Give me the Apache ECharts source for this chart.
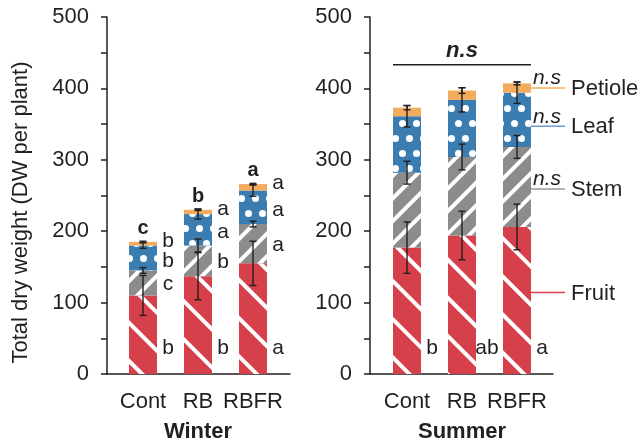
<!DOCTYPE html>
<html>
<head>
<meta charset="utf-8">
<script src="https://cdn.jsdelivr.net/npm/echarts@6/dist/echarts.min.js"></script>
<style>
  html, body { margin: 0; padding: 0; background: #ffffff; }
  #chart { width: 641px; height: 445px; }
</style>
</head>
<body>
<div id="chart"></div>
<script>
// ---- data -------------------------------------------------------------
const categories = ['Cont', 'RB', 'RBFR'];
const seasonNames = ['Winter', 'Summer'];
const organNames = ['Fruit', 'Stem', 'Leaf', 'Petiole'];
const yTicks = [0, 100, 200, 300, 400, 500];

// dry weight per organ, winter crop
const winterFruit   = [110, 137, 155];
const winterStem    = [35, 43, 55];
const winterLeaf    = [35, 44, 47];
const winterPetiole = [5, 6, 9];
const winterFruitErr   = [28, 33, 31];
const winterStemErr    = [4, 9, 4];
const winterLeafErr    = [4, 7, 8];
const winterPetioleErr = [1, 1, 1];

// dry weight per organ, summer crop
const summerFruit   = [177, 194, 206];
const summerStem    = [105, 110, 112];
const summerLeaf    = [79, 80, 76];
const summerPetiole = [12, 13, 13];
const summerFruitErr   = [36, 34, 32];
const summerStemErr    = [16, 18, 16];
const summerLeafErr    = [15, 17, 15];
const summerPetioleErr = [3, 4, 2];

// significance letters
const winterFruitSig   = ['b', 'b', 'a'];
const winterStemSig    = ['c', 'b', 'a'];
const winterLeafSig    = ['b', 'a', 'a'];
const winterPetioleSig = ['b', 'a', 'a'];
const winterTotalSig   = ['c', 'b', 'a'];
const summerFruitSig   = ['b', 'ab', 'a'];
const summerOrganSig   = 'n.s';
const summerTotalSig   = 'n.s';

// ---- styling / layout -------------------------------------------------
const INK = '#231f20';
const FONT = '"Liberation Sans", Arial, Helvetica, sans-serif';
const COLORS = { Fruit: '#d6404b', Stem: '#8c8c8c', Leaf: '#3b7db0', Petiole: '#f3ab5c' };
const KEY_COLORS = { Fruit: '#d6404b', Stem: '#9a9a9a', Leaf: '#6a9ccb', Petiole: '#f3ab5c' };
const BAR_W = 28;
const TOP = 17, HEIGHT = 357;
// value levels (in axis units) of the organ key beside the last summer bar
const keyLevels = { Fruit: 114, Stem: 259, Leaf: 347, Petiole: 400.5 };
const fruitLetterLevel = 36;
const totalLineLevel = 433, totalTextLevel = 453;

const DECALS = {
  Fruit:   { symbol: 'rect', color: '#ffffff', dashArrayX: [1, 0], dashArrayY: [4, 23], rotation: Math.PI / 4 },
  Stem:    { symbol: 'rect', color: '#ffffff', dashArrayX: [1, 0], dashArrayY: [3.5, 12], rotation: -Math.PI / 4 },
  Leaf:    { symbol: 'circle', color: '#ffffff', symbolSize: 1, dashArrayX: [[6.5, 6.5], [0, 6.5, 6.5, 0]], dashArrayY: [6.5, 7.5] },
  Petiole: { symbol: 'none', dashArrayX: [1, 0], dashArrayY: [1, 0] }
};

const seasons = [
  {
    name: seasonNames[0],
    values: [winterFruit, winterStem, winterLeaf, winterPetiole],
    errors: [winterFruitErr, winterStemErr, winterLeafErr, winterPetioleErr]
  },
  {
    name: seasonNames[1],
    values: [summerFruit, summerStem, summerLeaf, summerPetiole],
    errors: [summerFruitErr, summerStemErr, summerLeafErr, summerPetioleErr]
  }
];

// frame grid (axis lines) and bar grid for each season
const frameLeft = [107, 370];
const barLeft = [115.5, 379.5];

const grid = [], xAxis = [], yAxis = [], series = [];

const yMin = yTicks[0], yMax = yTicks[yTicks.length - 1], yStep = yTicks[1] - yTicks[0];

seasons.forEach((s, k) => {
  const gFrame = grid.length;
  grid.push({ left: frameLeft[k], top: TOP, width: 183, height: HEIGHT, outerBoundsMode: 'none', containLabel: false });
  const gBar = grid.length;
  grid.push({ left: barLeft[k], top: TOP, width: 165, height: HEIGHT, outerBoundsMode: 'none', containLabel: false });

  xAxis.push({
    gridIndex: gFrame, type: 'value', min: 0, max: 1,
    axisLine: { show: true, lineStyle: { color: INK, width: 1.5 } },
    axisTick: { show: false }, axisLabel: { show: false }, splitLine: { show: false }
  });
  const xBar = xAxis.length;
  xAxis.push({
    gridIndex: gBar, type: 'category', data: categories,
    axisLine: { show: false }, axisTick: { show: false }, splitLine: { show: false },
    axisLabel: { color: INK, fontSize: 22, fontFamily: FONT, margin: 17, interval: 0 },
    name: s.name, nameLocation: 'middle', nameGap: 47,
    nameTextStyle: { color: INK, fontSize: 22, fontWeight: 'bold', fontFamily: FONT }
  });

  const yFrame = {
    gridIndex: gFrame, type: 'value', min: yMin, max: yMax, interval: yStep,
    axisLine: { show: true, lineStyle: { color: INK, width: 1.5 } },
    axisTick: { show: true, length: 6, lineStyle: { color: INK, width: 1.5 } },
    minorTick: { show: true, splitNumber: 2, length: 6, lineStyle: { color: INK, width: 1.5 } },
    axisLabel: { color: INK, fontSize: 22, fontFamily: FONT, margin: 18 },
    splitLine: { show: false }
  };
  if (k === 0) {
    Object.assign(yFrame, {
      name: 'Total dry weight (DW per plant)', nameLocation: 'middle', nameGap: 75,
      nameMoveOverlap: false,
      nameTextStyle: { color: INK, fontSize: 22, fontFamily: FONT, padding: [0, 34, 0, 0] }
    });
  }
  yAxis.push(yFrame);
  const yBar = yAxis.length;
  yAxis.push({ gridIndex: gBar, type: 'value', min: yMin, max: yMax, show: false });

  // stacked organ bars
  organNames.forEach((org, j) => {
    series.push({
      type: 'bar', name: s.name + ' ' + org, stack: s.name,
      xAxisIndex: xBar, yAxisIndex: yBar, barWidth: BAR_W,
      data: s.values[j],
      itemStyle: { color: COLORS[org], decal: DECALS[org] },
      emphasis: { disabled: true }, animation: false, z: 2
    });
  });

  // error bars at the top of each organ
  const errData = [];
  categories.forEach((c, i) => {
    let cum = 0;
    organNames.forEach((org, j) => {
      cum += s.values[j][i];
      errData.push([i, cum, s.errors[j][i]]);
    });
  });
  series.push({
    type: 'custom', xAxisIndex: xBar, yAxisIndex: yBar, z: 5, animation: false,
    data: errData,
    renderItem: (params, api) => {
      const x = api.value(0), v = api.value(1), e = api.value(2);
      const hi = api.coord([x, v + e]), lo = api.coord([x, v - e]);
      const cx = hi[0], cap = 3.5;
      const st = { stroke: INK, lineWidth: 1.4 };
      return {
        type: 'group', children: [
          { type: 'line', shape: { x1: cx, y1: hi[1], x2: cx, y2: lo[1] }, style: st },
          { type: 'line', shape: { x1: cx - cap, y1: hi[1], x2: cx + cap, y2: hi[1] }, style: st },
          { type: 'line', shape: { x1: cx - cap, y1: lo[1], x2: cx + cap, y2: lo[1] }, style: st }
        ]
      };
    }
  });

  // letters
  const letters = [];
  categories.forEach((c, i) => {
    const f = s.values[0][i], st = s.values[1][i], lf = s.values[2][i], pt = s.values[3][i];
    const total = f + st + lf + pt;
    if (k === 0) {
      letters.push({ v: [i, fruitLetterLevel], t: winterFruitSig[i], side: true });
      letters.push({ v: [i, f + st / 2 - 2], t: winterStemSig[i], side: true });
      letters.push({ v: [i, f + st + lf / 2 - 4], t: winterLeafSig[i], side: true });
      letters.push({ v: [i, total + 1], t: winterPetioleSig[i], side: true });
      letters.push({ v: [i, total + 19], t: winterTotalSig[i], side: false, bold: true });
    } else {
      letters.push({ v: [i, fruitLetterLevel], t: summerFruitSig[i], side: true });
    }
  });
  series.push({
    type: 'custom', xAxisIndex: xBar, yAxisIndex: yBar, z: 6, animation: false,
    data: letters.map(d => d.v),
    renderItem: (params, api) => {
      const d = letters[params.dataIndex];
      const p = api.coord([api.value(0), api.value(1)]);
      return {
        type: 'text',
        x: d.side ? p[0] + BAR_W / 2 + 11 : p[0],
        y: p[1],
        style: {
          text: d.t, fill: INK, align: 'center', verticalAlign: 'middle',
          fontSize: d.bold ? 20 : 21, fontWeight: d.bold ? 'bold' : 'normal', fontFamily: FONT
        }
      };
    }
  });

  if (k === 1) {
    // overall comparison bracket
    series.push({
      type: 'custom', xAxisIndex: xBar, yAxisIndex: yBar, z: 6, animation: false,
      data: [[0, totalLineLevel]],
      renderItem: (params, api) => {
        const a = api.coord([0, totalLineLevel]);
        const b = api.coord([categories.length - 1, totalLineLevel]);
        const t = api.coord([1, totalTextLevel]);
        return {
          type: 'group', children: [
            { type: 'line', shape: { x1: a[0] - BAR_W / 2, y1: a[1], x2: b[0] + BAR_W / 2, y2: b[1] },
              style: { stroke: INK, lineWidth: 1.5 } },
            { type: 'text', x: (a[0] + b[0]) / 2, y: t[1],
              style: { text: summerTotalSig, fill: INK, align: 'center', verticalAlign: 'middle',
                       fontSize: 22, fontWeight: 'bold', fontStyle: 'italic', fontFamily: FONT } }
          ]
        };
      }
    });
    // organ key beside the last bar
    const last = categories.length - 1;
    series.push({
      type: 'custom', xAxisIndex: xBar, yAxisIndex: yBar, z: 6, animation: false,
      data: organNames.map(o => [last, keyLevels[o]]),
      renderItem: (params, api) => {
        const org = organNames[params.dataIndex];
        const p = api.coord([api.value(0), api.value(1)]);
        const x0 = p[0] + BAR_W / 2;
        const children = [
          { type: 'line', shape: { x1: x0, y1: p[1], x2: x0 + 34, y2: p[1] },
            style: { stroke: KEY_COLORS[org], lineWidth: 1.5 } },
          { type: 'text', x: x0 + 40, y: p[1] + 1,
            style: { text: org, fill: INK, align: 'left', verticalAlign: 'middle', fontSize: 22, fontFamily: FONT } }
        ];
        if (org !== 'Fruit') {
          children.push({ type: 'text', x: x0 + 2, y: p[1] + 1,
            style: { text: summerOrganSig, fill: INK, align: 'left', verticalAlign: 'bottom',
                     fontSize: 21, fontStyle: 'italic', fontFamily: FONT } });
        }
        return { type: 'group', children };
      }
    });
  }
});

const chart = echarts.init(document.getElementById('chart'), null, { renderer: 'canvas' });
chart.setOption({
  animation: false,
  backgroundColor: '#ffffff',
  grid, xAxis, yAxis, series
});
</script>
</body>
</html>
